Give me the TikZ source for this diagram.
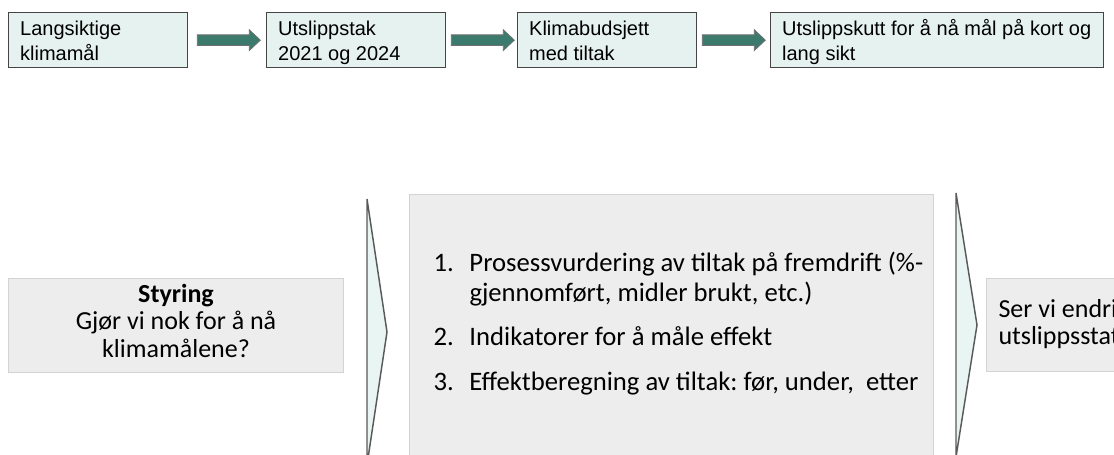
\documentclass[tikz,border=0pt]{standalone}
\usepackage{fontspec}
\setmainfont{Liberation Sans}
\newfontfamily\calib{Carlito}
\usetikzlibrary{calc}
\newdimen\pxu \pxu=0.75pt
\frenchspacing
\definecolor{mintfill}{HTML}{E6F2EF}
\definecolor{boxedge}{HTML}{454545}
\definecolor{arrfill}{HTML}{3B7A6D}
\definecolor{arredge}{HTML}{6F6F6F}
\definecolor{chevfill}{HTML}{E9F5F2}
\definecolor{chevedge}{HTML}{5A5A5A}
\definecolor{greyfill}{HTML}{EDEDED}
\definecolor{greyedge}{HTML}{D3D3D3}
\newcommand\toptxt[2]{\parbox[c][55\pxu][t]{#1\pxu}{\leftskip=11.5\pxu\rule{0pt}{23\pxu}#2}}
\tikzset{
  topbox/.style={draw=boxedge, line width=1pt, fill=mintfill, inner sep=0pt, anchor=north west,
    font=\fontsize{15}{18.75}\selectfont},
  blockarr/.style={draw=arredge, line width=0.6pt, fill=arrfill},
  greybox/.style={draw=greyedge, line width=0.75pt, fill=greyfill, inner sep=0pt, anchor=north west,
    font=\calib\fontsize{19.5}{20.6}\selectfont},
  listbox/.style={greybox, font=\calib\fontsize{20}{22.5}\selectfont},
  chev/.style={draw=chevedge, line width=1.1pt, fill=chevfill, line join=miter}
}
\begin{document}
\begin{tikzpicture}[x=0.75pt, y=-0.75pt]
\path[use as bounding box, clip] (0,0) rectangle (1114,454);
\fill[white] (0,0) rectangle (1114,454);
% top row
\node[topbox] (b1) at (8,12)   {\toptxt{179}{Langsiktige\\klimamål}};
\node[topbox] (b2) at (266,12) {\toptxt{179}{Utslippstak\\2021 og 2024}};
\node[topbox] (b3) at (517,12) {\toptxt{179}{Klimabudsjett\\med tiltak}};
\node[topbox] (b4) at (770,12) {\toptxt{333}{Utslippskutt for å nå mål på kort og\\lang sikt}};
\draw[blockarr] ($(b1.east)+(9,-5.3)$) -- ++(52,0) -- ++(0,-5) -- ++(11,10.3) -- ++(-11,10.3) -- ++(0,-5) -- ++(-52,0) -- cycle;
\draw[blockarr] ($(b2.east)+(5,-5.3)$) -- ++(52,0) -- ++(0,-5) -- ++(11,10.3) -- ++(-11,10.3) -- ++(0,-5) -- ++(-52,0) -- cycle;
\draw[blockarr] ($(b3.east)+(5,-5.3)$) -- ++(52,0) -- ++(0,-5) -- ++(11,10.3) -- ++(-11,10.3) -- ++(0,-5) -- ++(-52,0) -- cycle;
% bottom row
\node[greybox] (s) at (8,278) {\parbox[c][94\pxu][t]{335\pxu}{\centering\rule{0pt}{24\pxu}\textbf{Styring}\\Gjør vi nok for å nå\\klimamålene?}};
\node[listbox] (m) at (409,194) {\parbox[c][280\pxu][t]{524\pxu}{\rule{0pt}{77\pxu}\hspace*{24\pxu}\makebox[36\pxu][l]{1.}Prosessvurdering av tiltak på fremdrift (\%-\\
\hspace*{60\pxu}gjennomført, midler brukt, etc.)\\[14\pxu]
\hspace*{24\pxu}\makebox[36\pxu][l]{2.}Indikatorer for å måle effekt\\[15\pxu]
\hspace*{24\pxu}\makebox[36\pxu][l]{3.}Effektberegning av tiltak: før, under,~ etter}};
\node[greybox] (r) at (986,278) {\parbox[c][93\pxu][t]{200\pxu}{\leftskip=12\pxu\rule{0pt}{39\pxu}Ser vi endri\\utslippsstat}};
\draw[chev] (367,199) -- (387,332) -- (367,465) -- cycle;
\draw[chev] (956,193) -- (977,325) -- (956,457) -- cycle;
\end{tikzpicture}
\end{document}
